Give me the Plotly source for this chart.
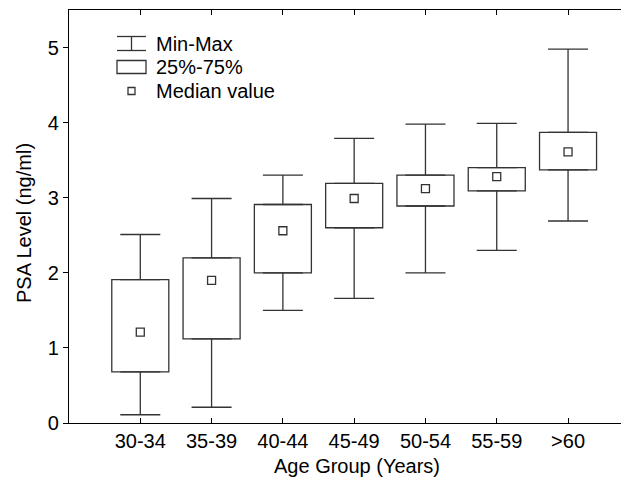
import plotly.graph_objects as go

categories = ["30-34", "35-39", "40-44", "45-49", "50-54", "55-59", ">60"]
minimum = [0.11, 0.21, 1.50, 1.66, 2.00, 2.30, 2.69]
q1 = [0.68, 1.12, 2.00, 2.60, 2.89, 3.09, 3.37]
median = [1.21, 1.90, 2.56, 2.99, 3.12, 3.28, 3.61]
q3 = [1.91, 2.20, 2.91, 3.19, 3.30, 3.40, 3.87]
maximum = [2.51, 2.99, 3.30, 3.79, 3.98, 3.99, 4.98]

LC = "#333333"
LW = 1.3
FONT = "Liberation Sans, Arial, Helvetica, sans-serif"
FS = 20

xs = list(range(len(categories)))

fig = go.Figure()

# boxes (25%-75%)
fig.add_trace(go.Bar(
    x=xs, y=[b - a for a, b in zip(q1, q3)], base=q1, width=0.8,
    marker=dict(color="white", line=dict(color=LC, width=LW)),
    showlegend=False, hoverinfo="skip"))

# upper whiskers
fig.add_trace(go.Scatter(
    x=xs, y=q3, mode="markers",
    marker=dict(color="rgba(0,0,0,0)", size=1),
    error_y=dict(type="data", symmetric=False,
                 array=[m - a for a, m in zip(q3, maximum)],
                 arrayminus=[0] * len(xs),
                 color=LC, thickness=LW, width=20),
    showlegend=False, hoverinfo="skip"))

# lower whiskers
fig.add_trace(go.Scatter(
    x=xs, y=q1, mode="markers",
    marker=dict(color="rgba(0,0,0,0)", size=1),
    error_y=dict(type="data", symmetric=False,
                 array=[0] * len(xs),
                 arrayminus=[a - m for a, m in zip(q1, minimum)],
                 color=LC, thickness=LW, width=20),
    showlegend=False, hoverinfo="skip"))

# medians
fig.add_trace(go.Scatter(
    x=xs, y=median, mode="markers",
    marker=dict(symbol="square-open", size=8, color=LC, line=dict(width=LW)),
    showlegend=False, hoverinfo="skip"))

# page body has an 8px offset; compensate
OFF = 8
W, H = 629 - OFF, 481 - OFF
# screen-space plot area: x 69..629, y 10..423
ML, MT = 69 - OFF, 10 - OFF
MR = 0
MB = H - (423 - OFF)
PW, PH = 629 - 69, 423 - 10


def px(x):
    return (x - 69) / PW


def py(y):
    return (423 - y) / PH


shapes = []
line = dict(color=LC, width=LW)
# Min-Max glyph
shapes.append(dict(type="line", xref="paper", yref="paper", x0=px(117), x1=px(146), y0=py(36.5), y1=py(36.5), line=line))
shapes.append(dict(type="line", xref="paper", yref="paper", x0=px(117), x1=px(146), y0=py(50.5), y1=py(50.5), line=line))
shapes.append(dict(type="line", xref="paper", yref="paper", x0=px(131.5), x1=px(131.5), y0=py(36.5), y1=py(50.5), line=line))
# box glyph
shapes.append(dict(type="rect", xref="paper", yref="paper", x0=px(117), x1=px(146), y0=py(60.5), y1=py(73.5), line=line, fillcolor="white"))
# median glyph
shapes.append(dict(type="rect", xref="paper", yref="paper", x0=px(128), x1=px(135), y0=py(87.5), y1=py(94.5), line=line, fillcolor="white"))

legend_labels = ["Min-Max", "25%-75%", "Median value"]
legend_y = [44, 67, 91]
annotations = [dict(text=t, xref="paper", yref="paper", x=px(154), y=py(yy),
                    xanchor="left", yanchor="middle", showarrow=False,
                    font=dict(family=FONT, size=FS, color="black"))
               for t, yy in zip(legend_labels, legend_y)]

# axis titles
annotations.append(dict(text="Age Group (Years)", xref="paper", yref="paper",
                        x=px(356.5), y=py(466), xanchor="center", yanchor="middle",
                        showarrow=False, font=dict(family=FONT, size=FS, color="black")))
annotations.append(dict(text="PSA Level (ng/ml)", xref="paper", yref="paper",
                        x=px(24), y=py(223), xanchor="center", yanchor="middle",
                        textangle=-90,
                        showarrow=False, font=dict(family=FONT, size=FS, color="black")))

fig.update_layout(
    width=W, height=H,
    margin=dict(l=ML, r=MR, t=MT, b=MB, pad=0),
    paper_bgcolor="white", plot_bgcolor="white",
    font=dict(family=FONT, size=FS, color="black"),
    shapes=shapes, annotations=annotations,
    barmode="overlay",
    xaxis=dict(
        range=[-1, 6.855], tickvals=xs, ticktext=categories,
        showline=True, linecolor="black", linewidth=1.3, mirror="ticks",
        ticks="inside", ticklen=5, tickwidth=1.3, tickcolor="black",
        showgrid=False, zeroline=False, automargin=False,
        tickfont=dict(size=FS)),
    yaxis=dict(
        range=[0, 5.5], tickvals=[0, 1, 2, 3, 4, 5],
        showline=True, linecolor="black", linewidth=1.3, mirror=False,
        ticks="outside", ticklen=5, tickwidth=1.3, tickcolor="black",
        showgrid=False, zeroline=False, automargin=False,
        tickfont=dict(size=FS)),
)

fig.write_html("out.html")
